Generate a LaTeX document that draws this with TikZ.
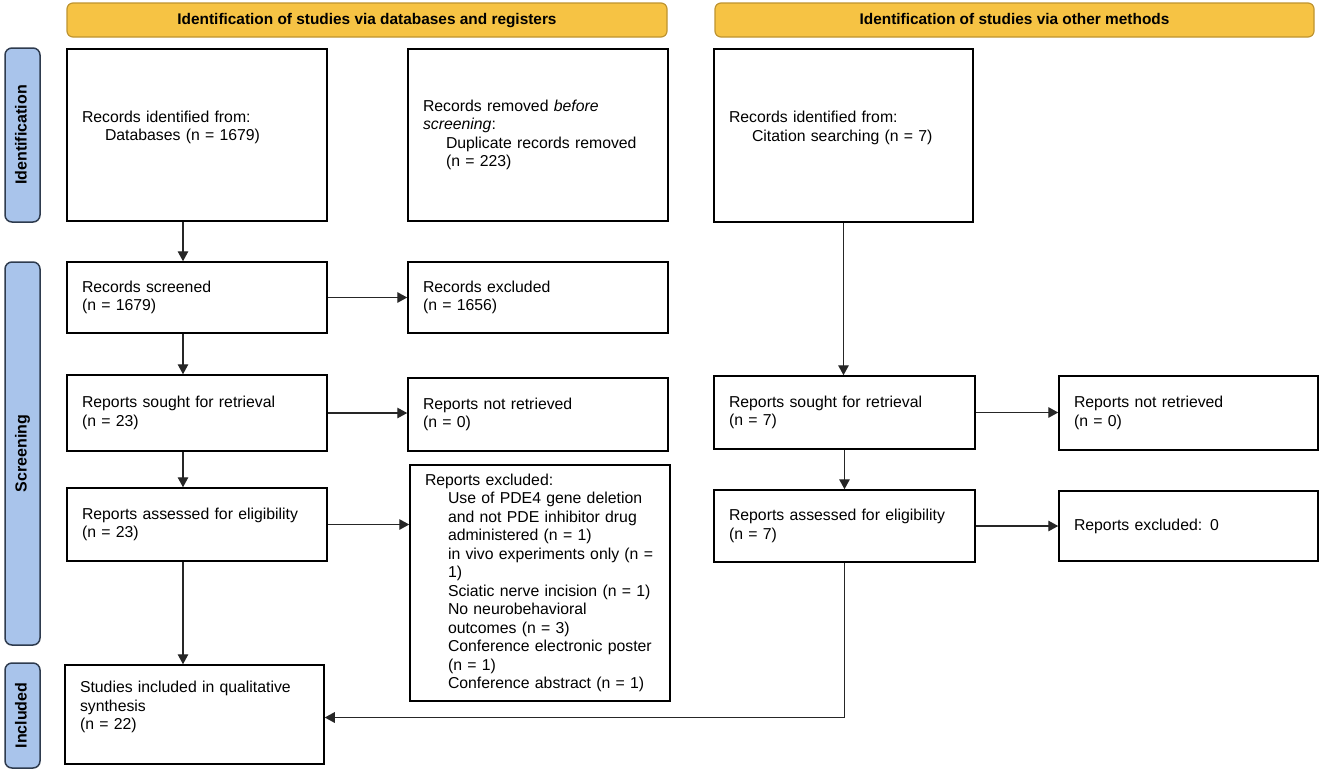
\documentclass[tikz,border=0pt]{standalone}
\usepackage{fontspec}
\setmainfont{Liberation Sans}
\usetikzlibrary{arrows.meta}
\definecolor{hdrfill}{HTML}{F6C344}
\definecolor{hdrline}{HTML}{BE9430}
\definecolor{sidefill}{HTML}{A9C4EB}
\definecolor{sideline}{HTML}{2E3B4E}
\definecolor{arrcol}{HTML}{262626}
\newcommand{\ind}{\hspace*{23pt}}
\newcommand{\padbottom}{\endgraf\vspace{15pt}}
\begin{document}
\begin{tikzpicture}[x=1pt,y=-1pt,
  box/.style={draw=black, line width=1.5pt, rectangle, align=left, inner xsep=0pt, inner ysep=0pt,
    font=\fontsize{15.8}{18.5}\selectfont},
  hdr/.style={draw=hdrline, fill=hdrfill, line width=1.2pt, rounded corners=6pt,
    text height=11.5pt, text depth=3.2pt, inner ysep=0pt,
    font=\bfseries\fontsize{15.4}{18}\selectfont},
  side/.style={draw=sideline, fill=sidefill, line width=1.5pt, rounded corners=7pt, rotate=90,
    text height=11.5pt, text depth=3.2pt, inner ysep=0pt,
    font=\bfseries\fontsize{16}{18}\selectfont},
  arr/.style={draw=arrcol, line width=1.4pt, -{Triangle[length=10pt,width=10.5pt]}},
  up/.style={execute at end node={\padbottom}}
]
\useasboundingbox (0,0) rectangle (1325,772);

% headers
\node[hdr, minimum width=600pt, minimum height=34pt] (h1) at (367,20) {Identification of studies via databases and registers};
\node[hdr, minimum width=599pt, minimum height=34pt] (h2) at (1014.5,20) {Identification of studies via other methods};

% side bars
\node[side, minimum width=174pt, minimum height=35pt] (s1) at (22.5,135) {Identification};
\node[side, minimum width=383pt, minimum height=35pt] (s2) at (22.5,453.5) {Screening};
\node[side, minimum width=105pt, minimum height=35pt] (s3) at (22.5,715.5) {Included};

% boxes, left column
\node[box, up, minimum width=260pt, minimum height=172pt, text width=230pt] (A) at (197,135)
  {Records identified from:\\\ind Databases (n = 1679)};
\node[box, minimum width=260pt, minimum height=172pt, text width=230pt] (B) at (538,135)
  {Records removed \textit{before}\\\textit{screening}:\\\ind Duplicate records removed\\\ind (n = 223)};
\node[box, minimum width=260pt, minimum height=71pt, text width=230pt] (D) at (197,297.5)
  {Records screened\\(n = 1679)};
\node[box, minimum width=260pt, minimum height=71pt, text width=230pt] (E) at (538,297.5)
  {Records excluded\\(n = 1656)};
\node[box, minimum width=260pt, minimum height=76pt, text width=230pt] (F) at (197,413)
  {Reports sought for retrieval\\(n = 23)};
\node[box, minimum width=260pt, minimum height=73pt, text width=230pt] (G) at (538,414.5)
  {Reports not retrieved\\(n = 0)};
\node[box, minimum width=260pt, minimum height=73pt, text width=230pt] (J) at (197,524.5)
  {Reports assessed for eligibility\\(n = 23)};
\node[box, minimum width=260pt, minimum height=236pt, text width=230pt] (K) at (540,583)
  {Reports excluded:\\\ind Use of PDE4 gene deletion\\\ind and not PDE inhibitor drug\\\ind administered (n = 1)\\\ind in vivo experiments only (n =\\\ind 1)\\\ind Sciatic nerve incision (n = 1)\\\ind No neurobehavioral\\\ind outcomes (n = 3)\\\ind Conference electronic poster\\\ind (n = 1)\\\ind Conference abstract (n = 1)};
\node[box, up, minimum width=259pt, minimum height=99pt, text width=229pt] (N) at (194.5,714.5)
  {Studies included in qualitative\\synthesis\\(n = 22)};

% boxes, right part
\node[box, up, minimum width=259pt, minimum height=173pt, text width=229pt] (C) at (843.5,135.5)
  {Records identified from:\\\ind Citation searching (n = 7)};
\node[box, minimum width=261pt, minimum height=73pt, text width=231pt] (H) at (844.5,412.5)
  {Reports sought for retrieval\\(n = 7)};
\node[box, minimum width=259pt, minimum height=74pt, text width=229pt] (I) at (1188.5,413)
  {Reports not retrieved\\(n = 0)};
\node[box, minimum width=261pt, minimum height=72pt, text width=231pt] (L) at (844.5,526)
  {Reports assessed for eligibility\\(n = 7)};
\node[box, minimum width=259pt, minimum height=70pt, text width=229pt] (M) at (1188.5,526)
  {Reports excluded: 0};

% connectors
\draw[arr] ([xshift=-14pt]A.south) -- ([xshift=-14pt]A.south |- D.north);
\draw[arr] ([xshift=-14pt]D.south) -- ([xshift=-14pt]D.south |- F.north);
\draw[arr] ([xshift=-14pt]F.south) -- ([xshift=-14pt]F.south |- J.north);
\draw[arr] ([xshift=-14pt]J.south) -- ([xshift=-14pt]J.south |- N.north);
\draw[arr] (D.east) -- (D.east -| E.west);
\draw[arr] (F.east) -- (F.east -| G.west);
\draw[arr] (J.east) -- (J.east -| K.west);
\draw[arr] (C.south) -- (C.south |- H.north);
\draw[arr] (H.east) -- (H.east -| I.west);
\draw[arr] (H.south) -- (H.south |- L.north);
\draw[arr] (L.east) -- (L.east -| M.west);
\draw[arr] (L.south) |- ([yshift=-3pt]N.east);
\end{tikzpicture}
\end{document}
